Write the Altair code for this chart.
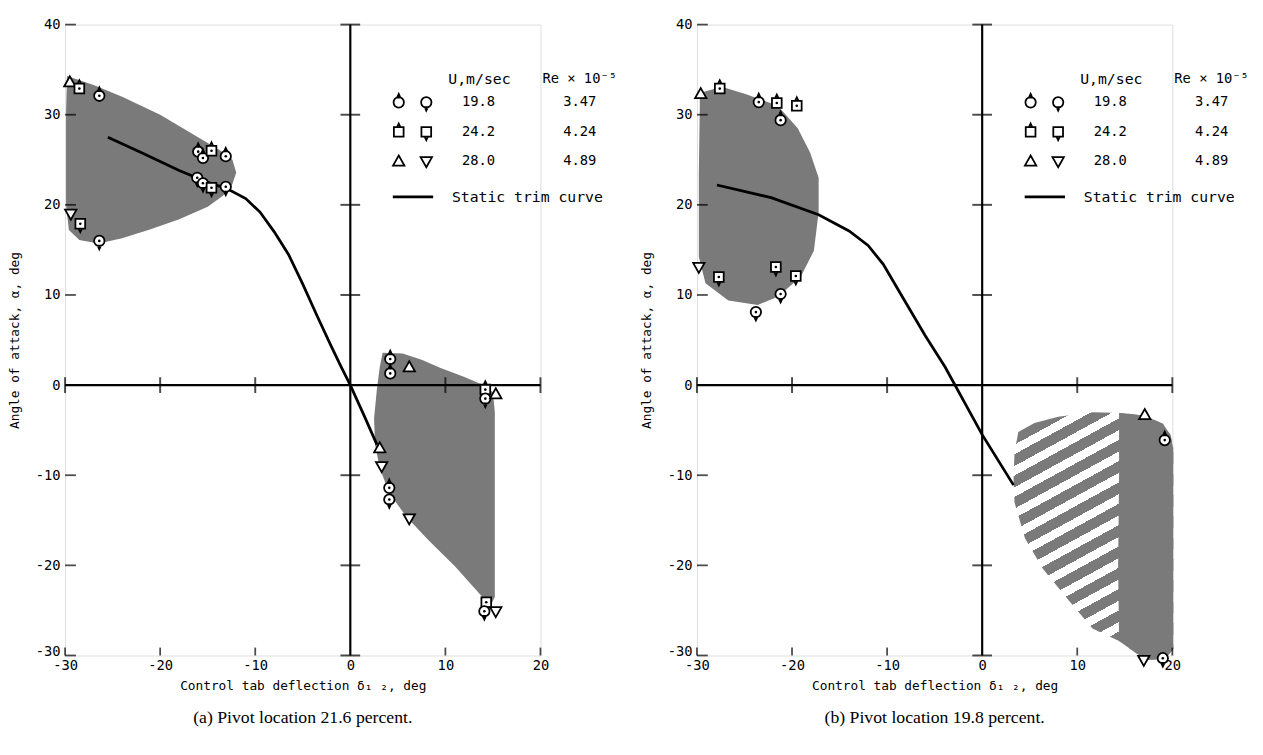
import math
import altair as alt
import pandas as pd

# ------------------------------------------------------------------ data
X_DOMAIN = [-30, 20]
Y_DOMAIN = [-30, 40]
X_TICKS = [-30, -20, -10, 0, 10, 20]
Y_TICKS = [-30, -20, -10, 0, 10, 20, 30, 40]
EDGE_X_TICKS = [-30, -20, -10, 10, 20]            # short inward ticks on the bottom edge
CROSS_V_TICKS = [-30, -20, -10, 10, 20, 30, 40]   # ticks on the vertical zero line
CROSS_H_TICKS = [-30, -20, -10, 10, 20]           # ticks on the horizontal zero line

X_TITLE = "Control tab deflection δ₁ ₂, deg"
Y_TITLE = "Angle of attack, α, deg"
CAPTIONS = ["(a) Pivot location 21.6 percent.", "(b) Pivot location 19.8 percent."]

LEG_SPEED = ["19.8", "24.2", "28.0"]
LEG_RE = ["3.47", "4.24", "4.89"]
LEG_UP = ["circ_up", "sq_up", "tri_up"]
LEG_DN = ["circ_dn", "sq_dn", "tri_dn"]
LEG_HEAD = ["U,m/sec", "Re × 10⁻⁵"]
LEG_LINE = "Static trim curve"

# panel (a)
A_UPPER_X = [-29.8, -27.0, -24.0, -20.0, -16.5, -13.8, -12.4, -12.0, -12.4, -13.4, -15.0, -18.0, -21.0, -24.0, -26.5, -28.5, -29.6, -29.9, -29.9]
A_UPPER_Y = [34.3, 33.3, 32.0, 30.0, 27.8, 26.1, 25.0, 23.6, 22.3, 21.0, 19.8, 18.4, 17.3, 16.3, 15.7, 16.1, 17.2, 20.0, 30.0]
A_LOWER_X = [3.4, 5.5, 7.5, 9.5, 12.0, 13.8, 15.0, 15.2, 15.2, 14.6, 14.0, 13.8, 11.0, 8.2, 5.9, 4.1, 3.1, 2.6, 2.5, 2.8, 3.1]
A_LOWER_Y = [3.6, 3.5, 2.8, 1.9, 0.9, 0.1, -0.8, -3.0, -23.5, -24.8, -24.6, -23.4, -20.1, -17.2, -14.6, -12.0, -9.2, -6.6, -3.7, -0.4, 2.0]
A_TRIM_X = [-25.5, -22.0, -18.0, -15.0, -13.0, -11.0, -9.5, -8.0, -6.5, -5.0, -3.5, -2.0, -1.0, 0.0, 1.5, 2.8]
A_TRIM_Y = [27.5, 25.8, 23.8, 22.5, 21.8, 20.7, 19.2, 17.0, 14.5, 11.2, 7.7, 4.3, 2.1, 0.0, -3.5, -6.6]
A_PT_X = [-29.5, -28.5, -26.4, -16.0, -15.5, -14.6, -13.1, -16.1, -15.5, -14.6, -13.1, -29.4, -28.4, -26.4,
          4.2, 4.2, 6.2, 14.2, 14.2, 15.3, 3.1, 3.3, 4.1, 4.1, 6.2, 14.3, 14.1, 15.3]
A_PT_Y = [33.6, 32.9, 32.1, 25.9, 25.2, 26.0, 25.4, 23.0, 22.4, 21.9, 22.0, 19.0, 17.9, 16.0,
          2.9, 1.3, 2.0, -0.5, -1.5, -1.0, -7.0, -9.0, -11.4, -12.7, -14.8, -24.1, -25.1, -25.1]
A_PT_S = ["tri_up", "sq_up", "circ_up", "circ_up", "circ_up", "sq_up", "circ_up", "circ_dn", "circ_dn", "sq_dn", "circ_dn", "tri_dn", "sq_dn", "circ_dn",
          "circ_up", "circ_up", "tri_up", "sq_up", "circ_dn", "tri_up", "tri_up", "tri_dn", "circ_up", "circ_dn", "tri_dn", "sq_dn", "circ_dn", "tri_dn"]

# panel (b)
B_UPPER_X = [-29.7, -27.4, -24.9, -21.5, -19.4, -18.1, -17.2, -17.2, -17.7, -19.1, -21.5, -23.6, -26.7, -29.1, -29.8, -29.8, -29.7]
B_UPPER_Y = [32.4, 33.1, 32.3, 31.0, 28.5, 25.8, 23.0, 19.2, 14.9, 12.0, 9.8, 8.9, 9.4, 11.3, 14.2, 23.6, 30.9]
B_LOWER_X = [3.8, 5.5, 8.0, 11.6, 14.7, 17.1, 19.0, 19.8, 20.1, 20.1, 19.2, 17.0, 16.4, 14.4, 11.6, 9.2, 6.4, 4.5, 3.4, 3.3, 3.4]
B_LOWER_Y = [-5.2, -4.2, -3.5, -3.0, -3.1, -3.4, -4.3, -5.5, -7.0, -29.3, -30.4, -30.5, -29.9, -28.4, -27.0, -24.0, -20.4, -17.0, -13.0, -10.5, -7.5]
B_DENSE_X = [14.4, 14.7, 17.1, 19.0, 19.8, 20.1, 20.1, 19.2, 17.0, 16.4, 14.4, 14.3, 14.4]
B_DENSE_Y = [-3.1, -3.1, -3.4, -4.3, -5.5, -7.0, -29.3, -30.4, -30.5, -29.9, -28.4, -20.0, -10.0]
B_TRIM_X = [-27.9, -22.2, -17.2, -14.0, -12.0, -10.4, -8.4, -6.0, -3.9, 0.0, 3.3]
B_TRIM_Y = [22.2, 20.8, 18.9, 17.1, 15.5, 13.4, 9.8, 5.5, 2.0, -5.5, -11.1]
B_PT_X = [-29.6, -27.6, -23.5, -21.6, -19.5, -21.2, -29.8, -27.7, -21.7, -19.6, -21.2, -23.8, 17.1, 19.2, 17.0, 19.0]
B_PT_Y = [32.3, 32.9, 31.4, 31.3, 31.0, 29.4, 13.1, 12.0, 13.1, 12.1, 10.1, 8.1, -3.3, -6.1, -30.5, -30.3]
B_PT_S = ["tri_up", "sq_up", "circ_up", "sq_up", "sq_up", "circ_up", "tri_dn", "sq_dn", "sq_dn", "sq_dn", "circ_dn", "circ_dn",
          "tri_up", "circ_up", "tri_dn", "circ_dn"]

# ------------------------------------------------------------------ style
FONT = "DejaVu Sans Mono"
GRAY = "#7a7a7a"
PLOT_H = 641
PLOT_W = 483
SYM_SIZE = 290

SHAPE_PATH = {
    "circ_up": "M-0.62,0A0.62,0.62,0,1,1,0.62,0A0.62,0.62,0,1,1,-0.62,0Z M-0.2,-0.56L0,-1L0.2,-0.56Z",
    "circ_dn": "M-0.62,0A0.62,0.62,0,1,1,0.62,0A0.62,0.62,0,1,1,-0.62,0Z M-0.2,0.56L0,1L0.2,0.56Z",
    "sq_up": "M-0.58,-0.58H0.58V0.58H-0.58Z M-0.2,-0.58L0,-1L0.2,-0.58Z",
    "sq_dn": "M-0.58,-0.58H0.58V0.58H-0.58Z M-0.2,0.58L0,1L0.2,0.58Z",
    "tri_up": "M0,-0.7L0.68,0.5L-0.68,0.5Z",
    "tri_dn": "M0,0.7L0.68,-0.5L-0.68,-0.5Z",
}
SHAPE_SCALE = alt.Scale(domain=list(SHAPE_PATH.keys()), range=list(SHAPE_PATH.values()))

LABEL_EXPR = "datum.value < 0 ? '-' + format(-datum.value, 'd') : format(datum.value, 'd')"
X_AXIS = alt.Axis(values=X_TICKS, labelExpr=LABEL_EXPR, domain=False, grid=False, ticks=False, tickSize=0,
                  labelPadding=3, labelFont=FONT, labelFontSize=14, labelColor="black", labelFlush=False,
                  labelOverlap=False, titleFont=FONT, titleFontSize=13, titleFontWeight="normal",
                  titleColor="black", titlePadding=8)
Y_AXIS = alt.Axis(values=Y_TICKS, labelExpr=LABEL_EXPR, domain=False, grid=False, ticks=False, tickSize=0,
                  labelPadding=5, labelFont=FONT, labelFontSize=14, labelColor="black", labelOverlap=False,
                  labelBaseline={"condition": {"test": "datum.value == -30", "value": "alphabetic"},
                                 "value": "middle"},
                  titleFont=FONT, titleFontSize=13, titleFontWeight="normal", titleColor="black",
                  titlePadding=14)


def xenc(field="x"):
    return alt.X(f"{field}:Q", scale=alt.Scale(domain=X_DOMAIN, nice=False, zero=False), axis=X_AXIS, title=X_TITLE)


def yenc(field="y"):
    return alt.Y(f"{field}:Q", scale=alt.Scale(domain=Y_DOMAIN, nice=False, zero=False), axis=Y_AXIS, title=Y_TITLE)


def poly_df(xs, ys):
    return pd.DataFrame({"x": xs, "y": ys, "i": list(range(len(xs)))})


def polygon(xs, ys, fill):
    return alt.Chart(poly_df(xs, ys)).mark_line(fill=fill, strokeWidth=0, strokeOpacity=0).encode(
        x=xenc(), y=yenc(), order="i:Q")


def stripe_fill(xs, ys, angle_deg=28.7, period_px=19.0, duty=0.55):
    # linear gradient with hard stops -> diagonal stripes inside the polygon bbox
    w = (max(xs) - min(xs)) * PLOT_W / (X_DOMAIN[1] - X_DOMAIN[0])
    h = (max(ys) - min(ys)) * PLOT_H / (Y_DOMAIN[1] - Y_DOMAIN[0])
    nx, ny = math.sin(math.radians(angle_deg)), math.cos(math.radians(angle_deg))
    D = nx * w + ny * h
    c = D / (nx * nx * w * w + ny * ny * h * h)
    gx, gy = c * nx * w, c * ny * h
    p = period_px / D
    stops = []
    t = 0.0
    while t < 1.0:
        a, b, e = t, min(t + p * duty, 1.0), min(t + p, 1.0)
        stops += [alt.GradientStop(color=GRAY, offset=a), alt.GradientStop(color=GRAY, offset=b),
                  alt.GradientStop(color="white", offset=b), alt.GradientStop(color="white", offset=e)]
        t += p
    return alt.LinearGradient(gradient="linear", stops=stops, x1=0, y1=0, x2=gx, y2=gy)


def legend_layers():
    L = []
    word = dict(font=FONT, fontSize=15, color="black", baseline="middle")
    num = dict(font=FONT, fontSize=14, color="black", baseline="middle")
    L.append(alt.Chart(pd.DataFrame({"t": [LEG_HEAD[0]]})).mark_text(align="center", **word).encode(
        x=alt.value(421), y=alt.value(55), text="t:N"))
    L.append(alt.Chart(pd.DataFrame({"t": [LEG_HEAD[1]]})).mark_text(align="left", **num).encode(
        x=alt.value(485), y=alt.value(55), text="t:N"))
    row_y = [79, 109, 139]
    for k in range(3):
        for sx, shp in ((339, LEG_UP[k]), (367, LEG_DN[k])):
            L.append(alt.Chart(pd.DataFrame({"s": [shp]})).mark_point(
                size=SYM_SIZE, fill="white", stroke="black", strokeWidth=1.8, opacity=1).encode(
                x=alt.value(sx), y=alt.value(row_y[k]),
                shape=alt.Shape("s:N", scale=SHAPE_SCALE, legend=None)))
        L.append(alt.Chart(pd.DataFrame({"t": [LEG_SPEED[k]]})).mark_text(align="center", **num).encode(
            x=alt.value(420), y=alt.value(row_y[k]), text="t:N"))
        L.append(alt.Chart(pd.DataFrame({"t": [LEG_RE[k]]})).mark_text(align="center", **num).encode(
            x=alt.value(523), y=alt.value(row_y[k]), text="t:N"))
    L.append(alt.Chart(pd.DataFrame({"t": [LEG_LINE]})).mark_rule(color="black", strokeWidth=2.8).encode(
        x=alt.value(333), x2=alt.value(374), y=alt.value(175)))
    L.append(alt.Chart(pd.DataFrame({"t": [LEG_LINE]})).mark_text(align="left", **word).encode(
        x=alt.value(393), y=alt.value(175), text="t:N"))
    return L


def panel(regions, trim_x, trim_y, pt_x, pt_y, pt_s, caption):
    trim = alt.Chart(poly_df(trim_x, trim_y)).mark_line(color="black", strokeWidth=2.8).encode(
        x=xenc(), y=yenc(), order="i:Q")
    vline = alt.Chart(pd.DataFrame({"x": [0], "y": [Y_DOMAIN[0]], "y2": [Y_DOMAIN[1]]})).mark_rule(
        color="black", strokeWidth=2.2).encode(x=xenc(), y=yenc(), y2="y2:Q")
    hline = alt.Chart(pd.DataFrame({"y": [0], "x": [X_DOMAIN[0]], "x2": [X_DOMAIN[1]]})).mark_rule(
        color="black", strokeWidth=2.2).encode(x=xenc(), x2="x2:Q", y=yenc())
    vticks = alt.Chart(pd.DataFrame({"x": [0] * len(CROSS_V_TICKS), "y": CROSS_V_TICKS})).mark_tick(
        orient="horizontal", size=20, thickness=2, color="black").encode(x=xenc(), y=yenc())
    hticks = alt.Chart(pd.DataFrame({"x": CROSS_H_TICKS, "y": [0] * len(CROSS_H_TICKS)})).mark_tick(
        orient="vertical", size=16, thickness=2, color="black").encode(x=xenc(), y=yenc())
    lticks = alt.Chart(pd.DataFrame({"x": [X_DOMAIN[0]] * len(Y_TICKS), "y": Y_TICKS})).mark_tick(
        orient="horizontal", size=11, thickness=1.8, color="black", xOffset=5.5).encode(x=xenc(), y=yenc())
    bticks = alt.Chart(pd.DataFrame({"x": EDGE_X_TICKS, "y": [Y_DOMAIN[0]] * len(EDGE_X_TICKS)})).mark_tick(
        orient="vertical", size=8, thickness=1.8, color="black", yOffset=-4).encode(x=xenc(), y=yenc())
    pdf = pd.DataFrame({"x": pt_x, "y": pt_y, "s": pt_s})
    pts = alt.Chart(pdf).mark_point(size=SYM_SIZE, fill="white", stroke="black", strokeWidth=1.8,
                                    opacity=1).encode(
        x=xenc(), y=yenc(), shape=alt.Shape("s:N", scale=SHAPE_SCALE, legend=None))
    dots = alt.Chart(pdf[~pdf["s"].str.startswith("tri")]).mark_point(
        shape="circle", size=7, filled=True, color="black", opacity=1).encode(x=xenc(), y=yenc())
    layers = list(regions) + [trim, vline, hline, vticks, hticks, lticks, bticks, pts, dots] + legend_layers()
    return alt.layer(*layers).properties(
        width=PLOT_W, height=PLOT_H,
        title=alt.TitleParams(caption, orient="bottom", anchor="middle", font="Liberation Serif",
                              fontSize=18, fontWeight="normal", color="black", offset=17))


left = panel([polygon(A_UPPER_X, A_UPPER_Y, GRAY), polygon(A_LOWER_X, A_LOWER_Y, GRAY)],
             A_TRIM_X, A_TRIM_Y, A_PT_X, A_PT_Y, A_PT_S, CAPTIONS[0])
right = panel([polygon(B_UPPER_X, B_UPPER_Y, GRAY),
               polygon(B_LOWER_X, B_LOWER_Y, stripe_fill(B_LOWER_X, B_LOWER_Y)),
               polygon(B_DENSE_X, B_DENSE_Y, GRAY)],
              B_TRIM_X, B_TRIM_Y, B_PT_X, B_PT_Y, B_PT_S, CAPTIONS[1])

chart = alt.hconcat(left, right, spacing=159, bounds="flush").properties(
    padding={"left": 0, "top": 3, "right": 5, "bottom": 5}
).configure_view(stroke=None).configure(background="white")

chart.save("out.html", embed_options={"renderer": "svg", "actions": False})
